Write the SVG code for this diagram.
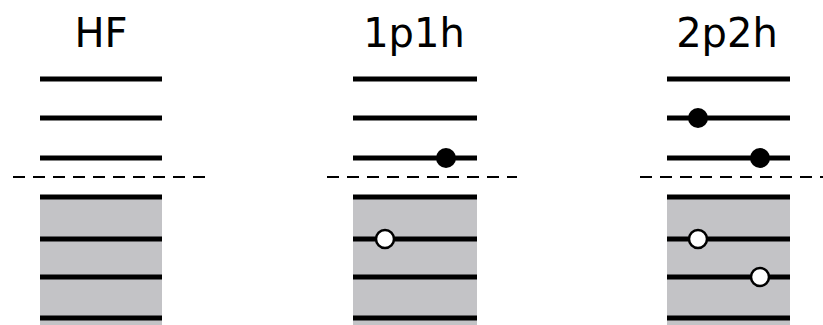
<svg xmlns="http://www.w3.org/2000/svg" width="823" height="325" viewBox="0 0 823 325">
<style>
.lvl{stroke:#000;stroke-width:5;fill:none}
.fermi{stroke:#000;stroke-width:2;stroke-dasharray:12 8;fill:none}
.sea{fill:#c3c3c6;stroke:none}
.p{fill:#000}
.h{fill:#fff;stroke:#000;stroke-width:2.5}
.t{font-family:"DejaVu Sans",sans-serif;font-size:40px;text-anchor:middle;fill:#000}
</style>
<rect width="823" height="325" fill="#fff"/>
<g id="connectors">
<line class="fermi" x1="13" y1="177" x2="205" y2="177"/>
<line class="fermi" x1="327" y1="177" x2="517" y2="177"/>
<line class="fermi" x1="640" y1="177" x2="823" y2="177"/>
</g>
<g id="hf">
<text class="t" x="101" y="47">HF</text>
<rect class="sea" x="40" y="197" width="122" height="128"/>
<line class="lvl" x1="40" y1="79" x2="162" y2="79"/>
<line class="lvl" x1="40" y1="118" x2="162" y2="118"/>
<line class="lvl" x1="40" y1="158" x2="162" y2="158"/>
<line class="lvl" x1="40" y1="197" x2="162" y2="197"/>
<line class="lvl" x1="40" y1="239" x2="162" y2="239"/>
<line class="lvl" x1="40" y1="277" x2="162" y2="277"/>
<line class="lvl" x1="40" y1="318" x2="162" y2="318"/>
</g>
<g id="p1h1">
<text class="t" x="414" y="47">1p1h</text>
<rect class="sea" x="353" y="197" width="124" height="128"/>
<line class="lvl" x1="353" y1="79" x2="477" y2="79"/>
<line class="lvl" x1="353" y1="118" x2="477" y2="118"/>
<line class="lvl" x1="353" y1="158" x2="477" y2="158"/>
<line class="lvl" x1="353" y1="197" x2="477" y2="197"/>
<line class="lvl" x1="353" y1="239" x2="477" y2="239"/>
<line class="lvl" x1="353" y1="277" x2="477" y2="277"/>
<line class="lvl" x1="353" y1="318" x2="477" y2="318"/>
<circle class="p" cx="446" cy="158" r="10"/>
<circle class="h" cx="385" cy="239" r="9"/>
</g>
<g id="p2h2">
<text class="t" x="727" y="47">2p2h</text>
<rect class="sea" x="667" y="197" width="123" height="128"/>
<line class="lvl" x1="667" y1="79" x2="790" y2="79"/>
<line class="lvl" x1="667" y1="118" x2="790" y2="118"/>
<line class="lvl" x1="667" y1="158" x2="790" y2="158"/>
<line class="lvl" x1="667" y1="197" x2="790" y2="197"/>
<line class="lvl" x1="667" y1="239" x2="790" y2="239"/>
<line class="lvl" x1="667" y1="277" x2="790" y2="277"/>
<line class="lvl" x1="667" y1="318" x2="790" y2="318"/>
<circle class="p" cx="698" cy="118" r="10"/>
<circle class="p" cx="760" cy="158" r="10"/>
<circle class="h" cx="698" cy="239" r="9"/>
<circle class="h" cx="760" cy="277" r="9"/>
</g>
</svg>
